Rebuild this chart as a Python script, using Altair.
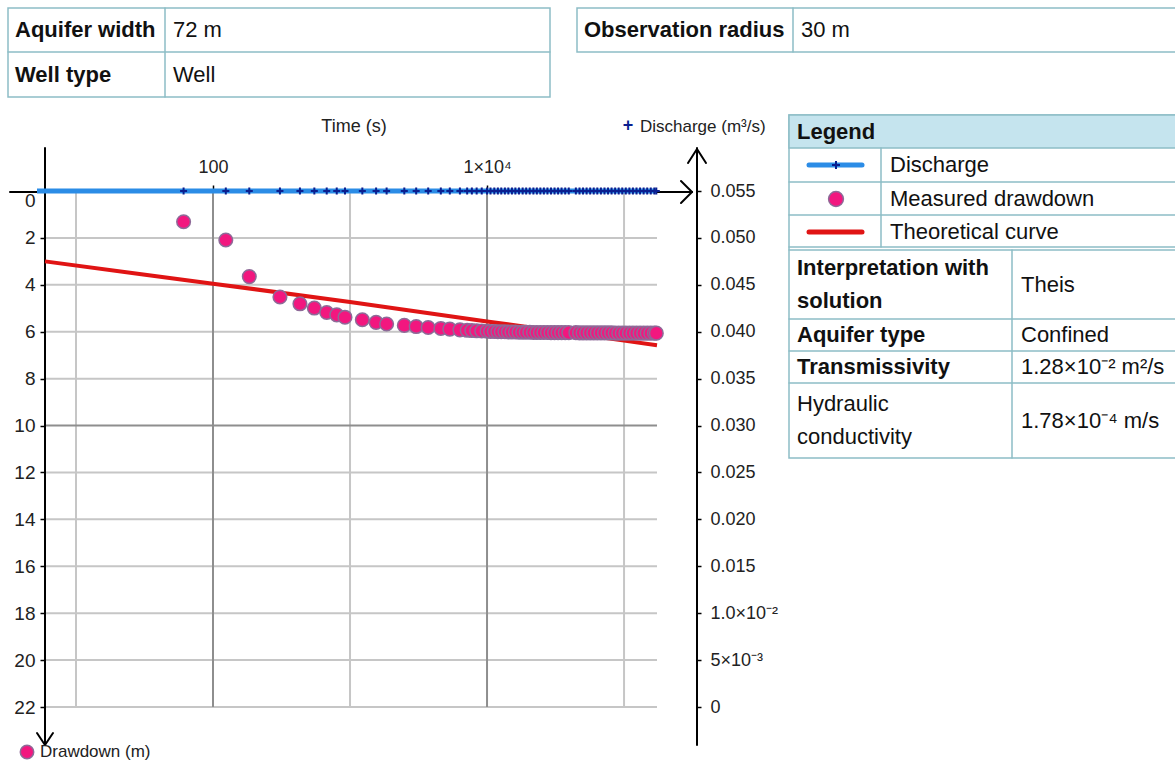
import altair as alt
import pandas as pd

# ---------------- data ----------------
MEAS_TIME = [
    61, 124, 184, 308, 431, 549, 676, 800, 919, 1230,
    1550, 1850, 2490, 3040, 3720, 4600, 5350, 6340, 7160, 7750,
    8400, 9150, 10000,
    10600, 11300, 12000, 12700, 13500, 14300, 15200, 16100, 17100, 18200,
    19300, 20500, 21800, 23100, 24500, 26000, 27600, 29300, 31100, 33000,
    35000, 37200, 39500, 44500, 47300, 50200, 53300, 56600, 60100, 63800,
    67800, 72000, 76400, 81100, 86100, 91400, 97000, 103000, 109400, 116100,
    123300, 130900, 139000, 147600, 156700, 166400, 172000,
]
MEAS_DRAWDOWN = [
    1.31, 2.09, 3.65, 4.52, 4.81, 4.99, 5.18, 5.28, 5.38, 5.49,
    5.60, 5.67, 5.73, 5.78, 5.82, 5.86, 5.89, 5.92, 5.94, 5.95,
    5.96, 5.97, 5.98,
    5.99, 5.99, 6.00, 6.00, 6.00, 6.01, 6.01, 6.01, 6.02, 6.02,
    6.02, 6.02, 6.03, 6.03, 6.03, 6.03, 6.03, 6.04, 6.04, 6.04,
    6.04, 6.04, 6.04, 6.04, 6.05, 6.05, 6.05, 6.05, 6.05, 6.05,
    6.05, 6.05, 6.05, 6.05, 6.06, 6.06, 6.06, 6.06, 6.06, 6.06,
    6.06, 6.06, 6.06, 6.06, 6.06, 6.06, 6.06,
]
DISCHARGE_TIME = MEAS_TIME
DISCHARGE_VALUE = 0.055

THEORY_TIME = [5.94, 30, 100, 1000, 10000, 100000, 174000]
THEORY_DRAWDOWN = [3.0, 3.55, 3.95, 4.73, 5.56, 6.38, 6.58]

TIME_GRID_MINOR = [10, 1000, 100000]
TIME_GRID_MAJOR = [100, 10000]
TIME_LABELS = [100, 10000]
DEPTH_GRID_MINOR = [2, 4, 6, 8, 12, 14, 16, 18, 20, 22]
DEPTH_GRID_MAJOR = [10]
DEPTH_TICKS = [0, 2, 4, 6, 8, 10, 12, 14, 16, 18, 20, 22]
Q_TICKS = [0, 0.005, 0.01, 0.015, 0.02, 0.025, 0.03, 0.035, 0.04, 0.045, 0.05, 0.055]

TOP_LEFT_ROWS = [("Aquifer width", "72 m"), ("Well type", "Well")]
TOP_RIGHT_ROW = ("Observation radius", "30 m")
LEGEND_ITEMS = ["Discharge", "Measured drawdown", "Theoretical curve"]
RESULTS = [
    (["Interpretation with", "solution"], True, "Theis"),
    (["Aquifer type"], True, "Confined"),
    (["Transmissivity"], True, "1.28×10⁻² m²/s"),
    (["Hydraulic", "conductivity"], False, "1.78×10⁻⁴ m/s"),
]

assert len(MEAS_TIME) == len(MEAS_DRAWDOWN)

# ---------------- styling ----------------
FONT = "Liberation Sans"
W, H = 612, 516
OX, OY = 45, 191
X_MIN, X_MAX = 5.94, 174000
BORDER = "#8dbdc6"
HEADER = "#c5e4ee"
GRID_LIGHT = "#c6c6c6"
GRID_DARK = "#8e8e8e"
BLUE = "#2b8ce6"
NAVY = "#0b1f8f"
PINK = "#f2177f"
PINK_EDGE = "#8e6a98"
RED = "#e01414"
PLUS = "M-1,0L1,0M0,-1L0,1"

ONE = [{}]


def txt(s, x, y, size=22, bold=False, color="#111111", align="left"):
    return alt.Chart(alt.Data(values=ONE)).mark_text(
        text=s, align=align, baseline="middle", fontSize=size,
        fontWeight="bold" if bold else "normal", color=color, font=FONT,
    ).encode(x=alt.value(x - OX), y=alt.value(y - OY))


def box(x1, y1, x2, y2, fill="white", stroke=BORDER, sw=1.5):
    return alt.Chart(alt.Data(values=ONE)).mark_rect(
        fill=fill, stroke=stroke, strokeWidth=sw
    ).encode(x=alt.value(x1 - OX), x2=alt.value(x2 - OX),
             y=alt.value(y1 - OY), y2=alt.value(y2 - OY))


def seg(x1, y1, x2, y2, color="black", sw=2):
    return alt.Chart(alt.Data(values=ONE)).mark_rule(
        color=color, strokeWidth=sw, strokeCap="round"
    ).encode(x=alt.value(x1 - OX), x2=alt.value(x2 - OX),
             y=alt.value(y1 - OY), y2=alt.value(y2 - OY))


def sym(x, y, **kw):
    return alt.Chart(alt.Data(values=ONE)).mark_point(**kw).encode(
        x=alt.value(x - OX), y=alt.value(y - OY))


# ---------------- encodings ----------------
x_enc = alt.X(
    "t:Q",
    scale=alt.Scale(type="log", domain=[X_MIN, X_MAX], nice=False),
    axis=alt.Axis(
        orient="top", values=TIME_LABELS,
        labelExpr="datum.value == 100 ? '100' : '1×10⁴'",
        grid=False, domain=False, tickColor="black", tickSize=6, tickWidth=1.5,
        labelFontSize=18, labelFont=FONT, labelColor="#222222", labelPadding=9,
        title=None,
    ),
)
y_dd = alt.Y(
    "d:Q",
    scale=alt.Scale(domain=[0, 22], reverse=True, nice=False, zero=False),
    axis=alt.Axis(
        orient="left", values=DEPTH_TICKS, grid=False, domain=False,
        tickColor="black", tickSize=5, tickWidth=1.5,
        labelFontSize=19, labelFont=FONT, labelColor="#222222", labelPadding=5,
        labelBaseline={"condition": {"test": "datum.value == 0", "value": "top"}, "value": "middle"},
        title=None,
    ),
)
y_q = alt.Y(
    "q:Q",
    scale=alt.Scale(domain=[0, 0.055], nice=False, zero=False),
    axis=alt.Axis(
        orient="right", offset=40, values=Q_TICKS, grid=False, domain=False,
        labelExpr=("datum.value < 0.0001 ? '0' : abs(datum.value - 0.005) < 1e-6 ? '5×10⁻³' : "
                   "abs(datum.value - 0.01) < 1e-6 ? '1.0×10⁻²' : format(datum.value, '.3f')"),
        tickColor="black", tickSize=4, tickWidth=1.5,
        labelFontSize=18, labelFont=FONT, labelColor="#222222", labelPadding=9,
        title=None,
    ),
)

# ---------------- data frames ----------------
meas_df = pd.DataFrame({"t": MEAS_TIME, "d": MEAS_DRAWDOWN})
theory_df = pd.DataFrame({"t": THEORY_TIME, "d": THEORY_DRAWDOWN})
q_df = pd.DataFrame({"t": DISCHARGE_TIME, "q": [DISCHARGE_VALUE] * len(DISCHARGE_TIME)})

vgrid_minor = alt.Chart(pd.DataFrame({"t": TIME_GRID_MINOR})).mark_rule(
    color=GRID_LIGHT, strokeWidth=2).encode(x=x_enc, y=alt.value(0), y2=alt.value(H))
vgrid_major = alt.Chart(pd.DataFrame({"t": TIME_GRID_MAJOR})).mark_rule(
    color=GRID_DARK, strokeWidth=2).encode(x=x_enc, y=alt.value(0), y2=alt.value(H))
hgrid_minor = alt.Chart(pd.DataFrame({"d": DEPTH_GRID_MINOR})).mark_rule(
    color=GRID_LIGHT, strokeWidth=2).encode(y=y_dd, x=alt.value(0), x2=alt.value(W))
hgrid_major = alt.Chart(pd.DataFrame({"d": DEPTH_GRID_MAJOR})).mark_rule(
    color=GRID_DARK, strokeWidth=2).encode(y=y_dd, x=alt.value(0), x2=alt.value(W))

theory = alt.Chart(theory_df).mark_line(color=RED, strokeWidth=4).encode(x=x_enc, y=y_dd)
points = alt.Chart(meas_df).mark_circle(
    size=185, fill=PINK, stroke=PINK_EDGE, strokeWidth=1.5, opacity=1
).encode(x=x_enc, y=y_dd)

q_line = alt.Chart(pd.DataFrame({"q": [DISCHARGE_VALUE]})).mark_rule(
    color=BLUE, strokeWidth=5).encode(y=y_q, x=alt.value(-8), x2=alt.value(W))
q_marks = alt.Chart(q_df).mark_point(
    shape=PLUS, filled=False, stroke=NAVY, strokeWidth=2, size=49, opacity=1
).encode(x=x_enc, y=y_q)

# ---------------- decorations: axis arrows, titles, tables ----------------
decor = [
    seg(45, 148, 45, 745), seg(37, 733, 45, 745), seg(53, 733, 45, 745),
    seg(10, 192, 692, 192), seg(681, 181, 692, 192), seg(681, 203, 692, 192),
    seg(697, 148, 697, 745), seg(688, 163, 697, 149), seg(706, 163, 697, 149),
    txt("Time (s)", 354, 127, size=18, align="center", color="#222222"),
    txt("+", 628, 126, size=18, bold=True, color=NAVY, align="center"),
    txt("Discharge (m³/s)", 640, 127, size=17, color="#222222"),
    sym(27, 752, shape="circle", filled=True, fill=PINK, stroke=PINK_EDGE, strokeWidth=1.5, size=180, opacity=1),
    txt("Drawdown (m)", 40, 752, size=17, color="#222222"),
]

tables = []
# top-left table
tables.append(box(8, 8, 550, 97))
tables.append(seg(8, 52, 550, 52, color=BORDER, sw=1.5))
tables.append(seg(165, 8, 165, 97, color=BORDER, sw=1.5))
for i, (k, v) in enumerate(TOP_LEFT_ROWS):
    yc = 30 + i * 45
    tables.append(txt(k, 15, yc, bold=True))
    tables.append(txt(v, 173, yc))
# top-right table
tables.append(box(577, 8, 1185, 52))
tables.append(seg(793, 8, 793, 52, color=BORDER, sw=1.5))
tables.append(txt(TOP_RIGHT_ROW[0], 584, 30, bold=True))
tables.append(txt(TOP_RIGHT_ROW[1], 801, 30))

# legend table
tables.append(box(789, 115, 1185, 458))
tables.append(box(789, 115, 1185, 148, fill=HEADER))
tables.append(txt("Legend", 797, 132, bold=True))
for yy in (182, 215, 247, 250, 319, 351, 383):
    tables.append(seg(789, yy, 1185, yy, color=BORDER, sw=1.5))
tables.append(seg(881, 148, 881, 247, color=BORDER, sw=1.5))
tables.append(seg(1012, 250, 1012, 458, color=BORDER, sw=1.5))
for i, name in enumerate(LEGEND_ITEMS):
    tables.append(txt(name, 890, 165 + i * 33.5))
tables.append(seg(809, 165, 862, 165, color=BLUE, sw=5))
tables.append(sym(836, 165, shape=PLUS, filled=False, stroke=NAVY, strokeWidth=2, size=64, opacity=1))
tables.append(sym(836, 199, shape="circle", filled=True, fill=PINK, stroke=PINK_EDGE, strokeWidth=1.5, size=220, opacity=1))
tables.append(seg(809, 232, 862, 232, color=RED, sw=5))

row_bounds = [(250, 319), (319, 351), (351, 383), (383, 458)]
for (labels, bold, value), (y1, y2) in zip(RESULTS, row_bounds):
    mid = (y1 + y2) / 2
    n = len(labels)
    for j, lab in enumerate(labels):
        yy = mid + (j - (n - 1) / 2) * 33
        tables.append(txt(lab, 797, yy, bold=bold))
    tables.append(txt(value, 1021, mid))

inner_dd = alt.layer(
    vgrid_minor, hgrid_minor, vgrid_major, hgrid_major,
    *tables, *decor, theory, points,
)
inner_q = alt.layer(q_line, q_marks)

chart = alt.layer(inner_dd, inner_q).resolve_scale(y="independent").properties(
    width=W, height=H,
    padding={"left": OX, "top": OY, "right": 1175 - OX - W, "bottom": 776 - OY - H},
    autosize=alt.AutoSizeParams(type="none"),
    background="white",
).configure_view(stroke=None)

chart.save("out.html", embed_options={"renderer": "svg", "actions": False})
